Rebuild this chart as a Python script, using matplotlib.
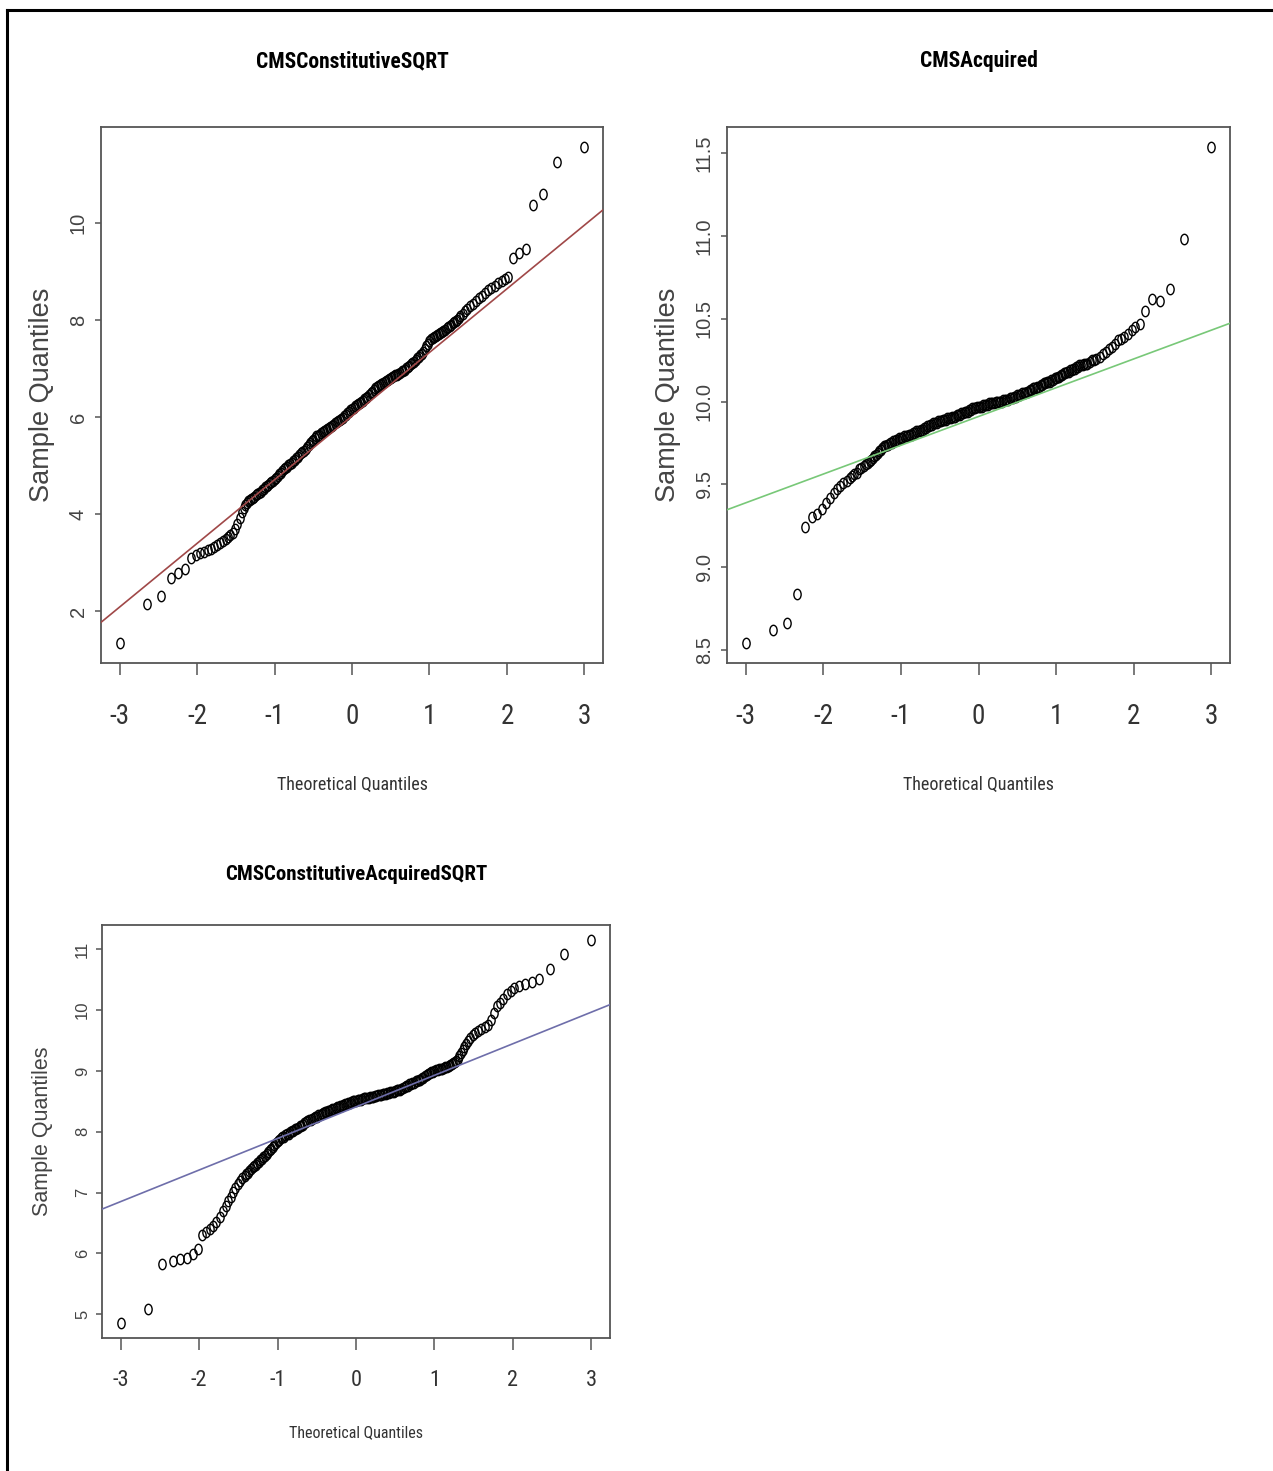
import matplotlib
matplotlib.use("Agg")
import matplotlib.pyplot as plt
from matplotlib.lines import Line2D
from matplotlib.markers import MarkerStyle
from matplotlib.transforms import Affine2D

plt.rcParams['axes.unicode_minus'] = False

NARROW = ['Roboto Condensed', 'Liberation Sans Narrow', 'Liberation Sans', 'DejaVu Sans']
SANS = ['Liberation Sans', 'DejaVu Sans']

# ---- values (theoretical quantile -> sample quantile) ----
# lower tail, shared theoretical quantiles
low_x = [-3.00, -2.65, -2.47, -2.34, -2.24, -2.15, -2.08, -2.02, -1.96, -1.91, -1.86, -1.82,
         -1.78, -1.74, -1.70, -1.66, -1.63, -1.60, -1.57, -1.54, -1.51, -1.48, -1.45, -1.42]
# dense middle part
core_x = [-1.40, -1.38, -1.36, -1.34, -1.32, -1.30, -1.28, -1.26, -1.24, -1.22,
          -1.20, -1.18, -1.16, -1.14, -1.12, -1.10, -1.08, -1.06, -1.04, -1.02,
          -1.00, -0.98, -0.96, -0.94, -0.92, -0.90, -0.88, -0.86, -0.84, -0.82,
          -0.80, -0.78, -0.76, -0.74, -0.72, -0.70, -0.68, -0.66, -0.64, -0.62,
          -0.60, -0.58, -0.56, -0.54, -0.52, -0.50, -0.48, -0.46, -0.44, -0.42,
          -0.40, -0.38, -0.36, -0.34, -0.32, -0.30, -0.28, -0.26, -0.24, -0.22,
          -0.20, -0.18, -0.16, -0.14, -0.12, -0.10, -0.08, -0.06, -0.04, -0.02,
          0.00, 0.02, 0.04, 0.06, 0.08, 0.10, 0.12, 0.14, 0.16, 0.18,
          0.20, 0.22, 0.24, 0.26, 0.28, 0.30, 0.32, 0.34, 0.36, 0.38,
          0.40, 0.42, 0.44, 0.46, 0.48, 0.50, 0.52, 0.54, 0.56, 0.58,
          0.60, 0.62, 0.64, 0.66, 0.68, 0.70, 0.72, 0.74, 0.76, 0.78,
          0.80, 0.82, 0.84, 0.86, 0.88, 0.90, 0.92, 0.94, 0.96, 0.98,
          1.00, 1.02, 1.04, 1.06, 1.08, 1.10, 1.12, 1.14, 1.16, 1.18,
          1.20, 1.22, 1.24, 1.26, 1.28, 1.30, 1.32, 1.34, 1.36, 1.38,
          1.40]
# upper tail
high_x = [1.43, 1.46, 1.49, 1.52, 1.56, 1.60, 1.64, 1.68, 1.72, 1.76, 1.80, 1.84,
          1.88, 1.93, 1.98, 2.02, 2.08, 2.15, 2.24, 2.34, 2.47, 2.65, 3.00]

# CMSConstitutiveSQRT
const_low = [1.34, 2.14, 2.32, 2.68, 2.79, 2.86, 3.10, 3.15, 3.19, 3.22, 3.26, 3.29,
             3.33, 3.37, 3.40, 3.45, 3.48, 3.52, 3.57, 3.62, 3.70, 3.80, 3.92, 4.05]
const_core = [4.12, 4.19, 4.22, 4.26, 4.29, 4.31, 4.34, 4.36, 4.39, 4.41,
              4.43, 4.46, 4.49, 4.52, 4.55, 4.58, 4.61, 4.64, 4.67, 4.69,
              4.72, 4.75, 4.79, 4.82, 4.85, 4.89, 4.92, 4.95, 4.98, 5.01,
              5.04, 5.06, 5.09, 5.12, 5.15, 5.18, 5.21, 5.25, 5.28, 5.31,
              5.35, 5.39, 5.42, 5.46, 5.50, 5.53, 5.56, 5.60, 5.62, 5.64,
              5.67, 5.69, 5.71, 5.73, 5.75, 5.77, 5.80, 5.82, 5.84, 5.87,
              5.89, 5.91, 5.94, 5.97, 5.99, 6.02, 6.05, 6.08, 6.11, 6.14,
              6.16, 6.19, 6.22, 6.24, 6.27, 6.29, 6.32, 6.34, 6.37, 6.39,
              6.42, 6.45, 6.49, 6.52, 6.55, 6.59, 6.62, 6.64, 6.67, 6.69,
              6.71, 6.73, 6.75, 6.77, 6.79, 6.81, 6.82, 6.84, 6.86, 6.87,
              6.89, 6.91, 6.94, 6.96, 6.98, 7.01, 7.03, 7.06, 7.09, 7.11,
              7.14, 7.17, 7.21, 7.24, 7.27, 7.31, 7.35, 7.40, 7.46, 7.51,
              7.56, 7.60, 7.63, 7.66, 7.68, 7.70, 7.72, 7.74, 7.76, 7.78,
              7.80, 7.83, 7.85, 7.87, 7.90, 7.93, 7.95, 7.98, 8.01, 8.05,
              8.08]
const_high = [8.13, 8.18, 8.23, 8.28, 8.33, 8.39, 8.45, 8.50, 8.56, 8.61, 8.66, 8.71,
              8.76, 8.81, 8.85, 8.89, 9.27, 9.38, 9.46, 10.38, 10.59, 11.26, 11.57]

# CMSAcquired
acq_low = [8.54, 8.62, 8.66, 8.84, 9.24, 9.30, 9.32, 9.35, 9.39, 9.42, 9.45, 9.47,
           9.49, 9.51, 9.52, 9.54, 9.55, 9.56, 9.57, 9.59, 9.60, 9.61, 9.62, 9.63]
acq_core = [9.64, 9.65, 9.66, 9.67, 9.68, 9.69, 9.70, 9.71, 9.72, 9.73,
            9.73, 9.74, 9.74, 9.75, 9.75, 9.76, 9.76, 9.77, 9.77, 9.78,
            9.78, 9.78, 9.79, 9.79, 9.79, 9.80, 9.80, 9.80, 9.81, 9.81,
            9.82, 9.82, 9.82, 9.83, 9.83, 9.84, 9.84, 9.85, 9.85, 9.86,
            9.86, 9.87, 9.87, 9.87, 9.88, 9.88, 9.88, 9.89, 9.89, 9.89,
            9.90, 9.90, 9.90, 9.91, 9.91, 9.91, 9.92, 9.92, 9.92, 9.93,
            9.93, 9.94, 9.94, 9.94, 9.95, 9.95, 9.96, 9.96, 9.96, 9.97,
            9.97, 9.97, 9.97, 9.98, 9.98, 9.98, 9.98, 9.99, 9.99, 9.99,
            9.99, 10.00, 10.00, 10.00, 10.00, 10.00, 10.01, 10.01, 10.01, 10.01,
            10.02, 10.02, 10.02, 10.03, 10.03, 10.04, 10.04, 10.04, 10.05, 10.05,
            10.05, 10.06, 10.06, 10.07, 10.07, 10.08, 10.08, 10.08, 10.09, 10.09,
            10.10, 10.10, 10.11, 10.11, 10.12, 10.12, 10.12, 10.13, 10.13, 10.14,
            10.14, 10.15, 10.15, 10.16, 10.16, 10.17, 10.17, 10.18, 10.18, 10.19,
            10.19, 10.20, 10.20, 10.21, 10.21, 10.22, 10.22, 10.22, 10.23, 10.23,
            10.23]
acq_high = [10.24, 10.25, 10.25, 10.26, 10.27, 10.29, 10.30, 10.32, 10.33, 10.35, 10.37, 10.38,
            10.39, 10.41, 10.43, 10.45, 10.47, 10.55, 10.62, 10.61, 10.68, 10.98, 11.54]

# CMSConstitutiveAcquiredSQRT
both_low = [4.86, 5.09, 5.82, 5.88, 5.90, 5.93, 5.99, 6.08, 6.31, 6.36, 6.40, 6.45,
            6.52, 6.60, 6.69, 6.78, 6.86, 6.93, 7.01, 7.08, 7.14, 7.19, 7.24, 7.28]
both_core = [7.30, 7.33, 7.36, 7.39, 7.42, 7.44, 7.46, 7.48, 7.50, 7.53,
             7.56, 7.59, 7.61, 7.64, 7.67, 7.70, 7.72, 7.75, 7.79, 7.82,
             7.85, 7.87, 7.89, 7.91, 7.92, 7.94, 7.96, 7.97, 7.99, 8.01,
             8.02, 8.04, 8.05, 8.07, 8.09, 8.10, 8.12, 8.14, 8.16, 8.17,
             8.19, 8.20, 8.21, 8.23, 8.24, 8.25, 8.27, 8.28, 8.29, 8.31,
             8.32, 8.33, 8.34, 8.35, 8.36, 8.37, 8.38, 8.39, 8.40, 8.41,
             8.42, 8.43, 8.44, 8.45, 8.46, 8.47, 8.48, 8.49, 8.50, 8.51,
             8.51, 8.52, 8.53, 8.53, 8.54, 8.55, 8.55, 8.56, 8.56, 8.57,
             8.58, 8.58, 8.59, 8.59, 8.60, 8.61, 8.61, 8.62, 8.62, 8.63,
             8.64, 8.64, 8.65, 8.66, 8.66, 8.67, 8.68, 8.68, 8.69, 8.70,
             8.72, 8.73, 8.75, 8.76, 8.78, 8.79, 8.80, 8.81, 8.83, 8.84,
             8.85, 8.86, 8.88, 8.89, 8.91, 8.93, 8.95, 8.96, 8.98, 8.99,
             9.00, 9.01, 9.02, 9.03, 9.03, 9.04, 9.05, 9.06, 9.07, 9.08,
             9.10, 9.11, 9.13, 9.14, 9.16, 9.19, 9.24, 9.30, 9.35, 9.40,
             9.45]
both_high = [9.49, 9.55, 9.59, 9.62, 9.66, 9.69, 9.72, 9.76, 9.84, 9.95, 10.07, 10.12,
             10.18, 10.26, 10.32, 10.37, 10.40, 10.43, 10.47, 10.51, 10.68, 10.93, 11.15]

# qq reference lines: (intercept, slope)
const_line = (6.02, 1.312)
acq_line = (9.91, 0.174)
both_line = (8.41, 0.519)

xticks = [-3, -2, -1, 0, 1, 2, 3]
const_yticks = [2, 4, 6, 8, 10]
acq_yticks = [8.5, 9.0, 9.5, 10.0, 10.5, 11.0, 11.5]
acq_yticklabels = ['8.5', '9.0', '9.5', '10.0', '10.5', '11.0', '11.5']
both_yticks = [5, 6, 7, 8, 9, 10, 11]

theo_x = low_x + core_x + high_x
const_y = const_low + const_core + const_high
acq_y = acq_low + acq_core + acq_high
both_y = both_low + both_core + both_high
for ys in (const_y, acq_y, both_y):
    assert len(ys) == len(theo_x)

W, H = 1273, 1471
fig = plt.figure(figsize=(W / 100, H / 100), dpi=100)

marker = MarkerStyle('o', fillstyle='none', transform=Affine2D().scale(0.7, 1.0))

TOP = dict(title=15.5, xtick=19.5, xlabel=13, ytick=14.5, ylabel=19.5, xlen=8.5, xpad=20, ypad=5)
BOTTOM = dict(title=15, xtick=16, xlabel=11.5, ytick=12, ylabel=15.5, xlen=8.5, xpad=14.5, ypad=4)


def qq_panel(rect_px, x, y, line, color, title, yticks, ylabels, fs):
    l, t, r, b = rect_px
    ax = fig.add_axes([l / W, 1 - b / H, (r - l) / W, (b - t) / H])
    ax.plot(x, y, linestyle='none', marker=marker, markersize=7.5,
            markeredgecolor='black', markeredgewidth=1.0, zorder=2)
    ax.axline((0, line[0]), slope=line[1], color=color, lw=1.2, zorder=3)
    ax.set_xlim(-3.24, 3.24)
    lo, hi = min(y), max(y)
    pad = 0.04 * (hi - lo)
    ax.set_ylim(lo - pad, hi + pad)
    for sp in ax.spines.values():
        sp.set_color('#555555')
        sp.set_linewidth(1.3)
    ax.set_xticks(xticks)
    ax.set_xticklabels([str(v) for v in xticks], family=NARROW, fontsize=fs['xtick'], color='#333333')
    ax.set_yticks(yticks)
    ax.set_yticklabels(ylabels, family=SANS, fontsize=fs['ytick'], color='#444444',
                       rotation=90, va='center')
    ax.tick_params(axis='x', length=fs['xlen'], width=1.1, color='#555555', pad=fs['xpad'])
    ax.tick_params(axis='y', length=4.5, width=1.1, color='#555555', pad=fs['ypad'])
    ax.set_title(title, family=NARROW, fontweight='bold', fontsize=fs['title'],
                 y=1.123, va='center', pad=0)
    ax.set_xlabel('Theoretical Quantiles', family=NARROW, fontsize=fs['xlabel'],
                  color='#333333', va='center')
    ax.xaxis.set_label_coords(0.5, -0.228)
    ax.set_ylabel('Sample Quantiles', family=SANS, fontsize=fs['ylabel'], color='#444444', va='center')
    ax.yaxis.set_label_coords(-0.118, 0.5)
    return ax


qq_panel((101, 127, 603, 663), theo_x, const_y, const_line, '#a04848',
         'CMSConstitutiveSQRT', const_yticks, [str(v) for v in const_yticks], TOP)
qq_panel((727, 127, 1230, 663), theo_x, acq_y, acq_line, '#78c878',
         'CMSAcquired', acq_yticks, acq_yticklabels, TOP)
qq_panel((102, 925, 610, 1338), theo_x, both_y, both_line, '#6e6eaa',
         'CMSConstitutiveAcquiredSQRT', both_yticks, [str(v) for v in both_yticks], BOTTOM)

# outer frame (top and left edges)
fig.add_artist(Line2D([7 / W, 1], [1 - 10 / H, 1 - 10 / H], transform=fig.transFigure,
                      color='black', lw=2.2))
fig.add_artist(Line2D([7 / W, 7 / W], [0, 1 - 10 / H], transform=fig.transFigure,
                      color='black', lw=2.2))

fig.savefig('out.png', dpi=100, facecolor='white')
